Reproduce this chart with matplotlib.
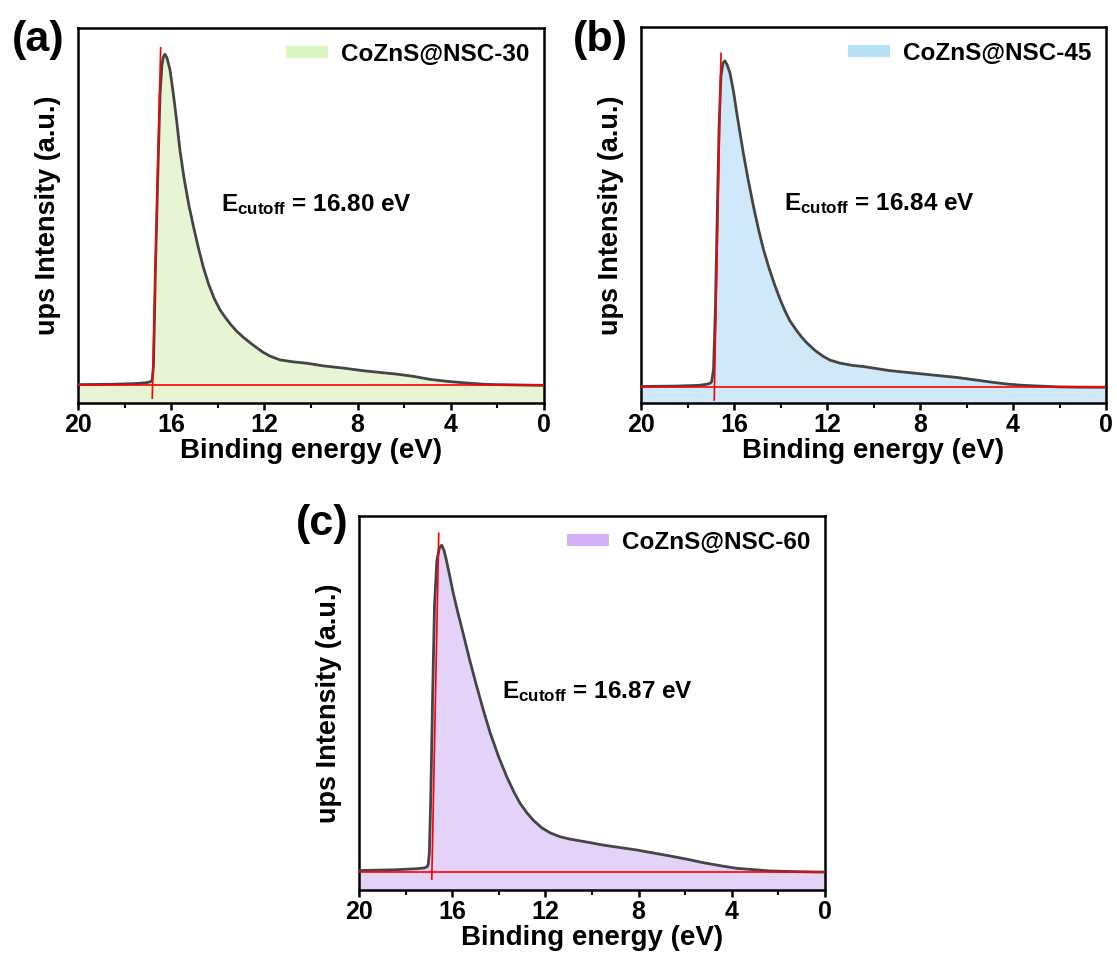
import matplotlib
matplotlib.use("Agg")
import matplotlib.pyplot as plt
from matplotlib.patches import Patch

plt.rcParams['font.family'] = ['Liberation Sans', 'DejaVu Sans']
plt.rcParams['font.weight'] = 'bold'
plt.rcParams['mathtext.fontset'] = 'custom'
plt.rcParams['mathtext.rm'] = 'Liberation Sans:bold'
plt.rcParams['mathtext.bf'] = 'Liberation Sans:bold'
plt.rcParams['mathtext.it'] = 'Liberation Sans:bold'

# UPS secondary-electron cutoff spectra (binding energy in eV, intensity in a.u.)
energy_30 = [20.0, 18.5, 17.5, 17.1, 16.92, 16.82, 16.76, 16.68, 16.57, 16.48, 16.40,
             16.34, 16.27, 16.18, 16.05, 15.92, 15.77, 15.62, 15.45, 15.25, 15.05,
             14.85, 14.62, 14.40, 14.15, 13.90, 13.70, 13.48, 13.20, 12.90, 12.60,
             12.30, 12.05, 11.76, 11.33, 10.80, 10.18, 9.47, 8.60, 7.75, 6.32, 5.60,
             4.89, 4.20, 3.46, 2.60, 2.03, 1.00, 0.0]
intensity_30 = [0.049, 0.050, 0.052, 0.054, 0.056, 0.060, 0.10, 0.35, 0.62, 0.82, 0.90,
                0.922, 0.930, 0.920, 0.888, 0.830, 0.755, 0.672, 0.600, 0.530, 0.472,
                0.418, 0.362, 0.318, 0.278, 0.248, 0.230, 0.212, 0.192, 0.175, 0.160,
                0.146, 0.135, 0.125, 0.115, 0.110, 0.106, 0.099, 0.093, 0.086, 0.077,
                0.071, 0.063, 0.058, 0.054, 0.050, 0.049, 0.048, 0.047]

energy_45 = [20.0, 18.5, 17.5, 17.15, 17.02, 16.96, 16.88, 16.80, 16.72, 16.64, 16.56,
             16.47, 16.39, 16.30, 16.17, 16.02, 15.88, 15.74, 15.60, 15.40, 15.17,
             14.95, 14.74, 14.50, 14.25, 14.02, 13.80, 13.59, 13.30, 13.10, 12.87,
             12.50, 12.16, 11.87, 11.44, 10.90, 10.44, 9.29, 7.86, 6.42, 5.70, 4.99,
             4.20, 3.56, 2.12, 1.00, 0.0]
intensity_45 = [0.044, 0.045, 0.047, 0.050, 0.053, 0.057, 0.09, 0.25, 0.50, 0.74, 0.87,
                0.905, 0.910, 0.900, 0.877, 0.828, 0.771, 0.718, 0.665, 0.597, 0.525,
                0.463, 0.410, 0.360, 0.314, 0.276, 0.244, 0.218, 0.192, 0.176, 0.160,
                0.139, 0.124, 0.114, 0.106, 0.100, 0.097, 0.086, 0.077, 0.068, 0.062,
                0.056, 0.050, 0.047, 0.043, 0.042, 0.042]

energy_60 = [20.0, 18.5, 17.5, 17.2, 17.08, 17.03, 16.98, 16.92, 16.84, 16.76, 16.66,
             16.55, 16.45, 16.35, 16.25, 16.10, 15.96, 15.75, 15.53, 15.25, 14.95,
             14.65, 14.38, 14.00, 13.66, 13.35, 13.09, 12.80, 12.51, 12.15, 11.80,
             11.40, 10.94, 10.20, 9.51, 8.08, 6.65, 5.90, 5.22, 4.40, 3.79, 2.36,
             1.20, 0.21, 0.0]
intensity_60 = [0.052, 0.054, 0.057, 0.059, 0.062, 0.068, 0.10, 0.25, 0.52, 0.76, 0.88,
                0.915, 0.922, 0.908, 0.882, 0.838, 0.795, 0.740, 0.686, 0.615, 0.545,
                0.478, 0.422, 0.355, 0.303, 0.262, 0.232, 0.207, 0.186, 0.166, 0.153,
                0.143, 0.136, 0.128, 0.120, 0.107, 0.091, 0.082, 0.073, 0.064, 0.058,
                0.051, 0.049, 0.048, 0.048]

sample_names = ['CoZnS@NSC-30', 'CoZnS@NSC-45', 'CoZnS@NSC-60']
cutoff_energies = [16.80, 16.84, 16.87]
baseline_levels = [0.047, 0.042, 0.047]
tangent_slopes = [-0.385, -0.315, -0.324]     # eV per unit intensity along the leading edge
tangent_spans = [(0.013, 0.947), (0.008, 0.930), (0.029, 0.954)]
panel_tags = ['(a)', '(b)', '(c)']

fill_colors = ['#dff2c8', '#bfe2f9', '#dcc4f8']
legend_colors = ['#dbf5c0', '#b7e0f8', '#d3b0f6']

spectra = [(energy_30, intensity_30), (energy_45, intensity_45), (energy_60, intensity_60)]

fig = plt.figure(figsize=(11.17, 9.66), dpi=100)
W, H = 1117, 966
boxes = [(78, 28, 544, 403), (641, 27, 1106, 403), (359, 516, 825, 890)]
tag_pos = [(38, 40), (600, 40), (322, 524)]

for i, (e, inten) in enumerate(spectra):
    x0, y0, x1, y1 = boxes[i]
    ax = fig.add_axes([x0 / W, 1 - y1 / H, (x1 - x0) / W, (y1 - y0) / H])
    ax.fill_between(e, inten, 0, color=fill_colors[i], alpha=0.75, lw=0, zorder=1)
    ax.plot(e, inten, color='#454545', lw=2.0, zorder=3, solid_joinstyle='round')

    # baseline and leading-edge tangent whose crossing gives the cutoff
    ax.axhline(baseline_levels[i], color='red', lw=1.2, zorder=4)
    ylo, yhi = tangent_spans[i]
    ec, b, s = cutoff_energies[i], baseline_levels[i], tangent_slopes[i]
    ax.plot([ec + s * (ylo - b), ec + s * (yhi - b)], [ylo, yhi], color='red', lw=1.2, zorder=4)

    ax.set_xlim(20, 0)
    ax.set_ylim(0, 1.0)
    ax.set_xticks([20, 16, 12, 8, 4, 0])
    ax.set_xticks([18, 14, 10, 6, 2], minor=True)
    ax.set_yticks([])
    ax.tick_params(axis='x', which='major', direction='out', length=5, width=1.8,
                   labelsize=18, pad=2, top=False)
    ax.tick_params(axis='x', which='minor', direction='out', length=3.5, width=1.5, top=False)
    for sp in ax.spines.values():
        sp.set_linewidth(1.8)
    for lab in ax.get_xticklabels():
        lab.set_fontweight('bold')

    ax.set_xlabel('Binding energy (eV)', fontsize=20, fontweight='bold', labelpad=1)
    ax.set_ylabel('ups Intensity (a.u.)', fontsize=19.5, fontweight='bold', labelpad=12)

    ax.text(13.85, 0.53, r'$\mathbf{E_{cutoff}}$' + ' = {:.2f} eV'.format(cutoff_energies[i]),
            fontsize=17.5, fontweight='bold', ha='left', va='center', zorder=5)

    handle = Patch(facecolor=legend_colors[i], edgecolor='none')
    ax.legend([handle], [sample_names[i]], loc='upper right', frameon=False,
              prop={'size': 17.5, 'weight': 'bold'}, handlelength=1.7, handleheight=0.42,
              handletextpad=0.55, borderaxespad=0.2)

    fig.text(tag_pos[i][0] / W, 1 - tag_pos[i][1] / H, panel_tags[i], fontsize=31,
             fontweight='bold', ha='center', va='center')

fig.savefig('out.png', dpi=100)
